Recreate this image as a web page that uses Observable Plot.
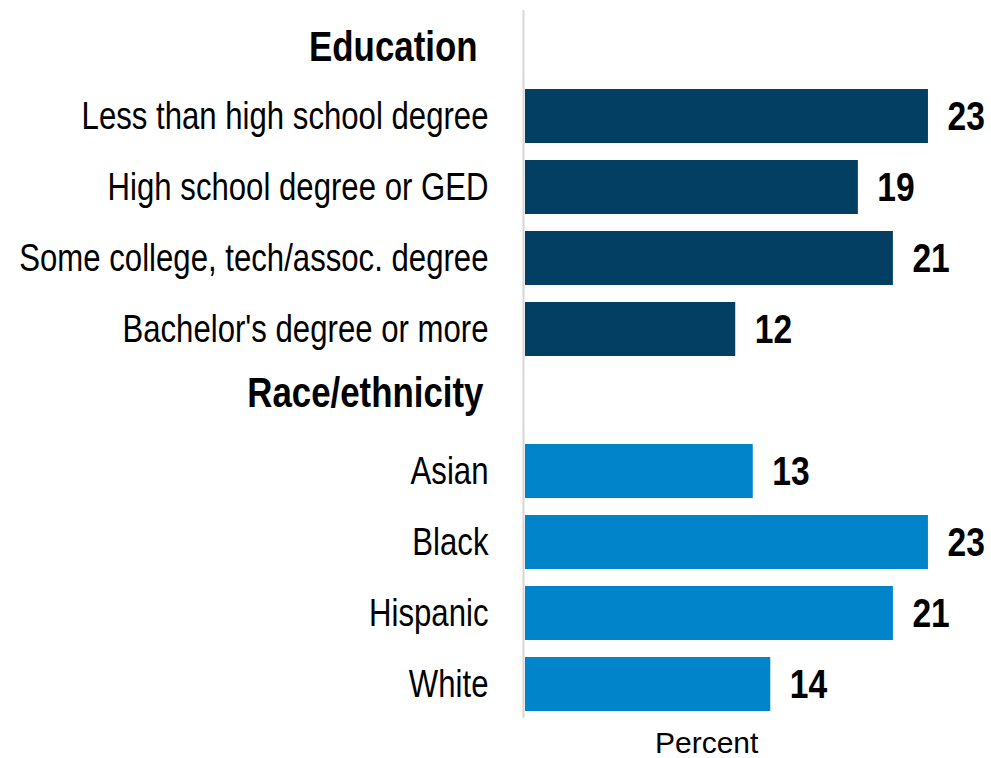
<!DOCTYPE html>
<html>
<head>
<meta charset="utf-8">
<script src="https://cdn.jsdelivr.net/npm/d3@7"></script>
<script src="https://cdn.jsdelivr.net/npm/@observablehq/plot@0.6"></script>
<style>
  html, body { margin: 0; padding: 0; background: white; }
  #caption { font-family: "Liberation Sans", Arial, sans-serif; font-size: 30px; color: #000; padding-left: 655px; margin-top: 4px; }
</style>
</head>
<body>
<div id="chart"></div>
<div id="caption">Percent</div>
<script>
const headers = ["Education", "Race/ethnicity"];
const educationLabels = ["Less than high school degree", "High school degree or GED", "Some college, tech/assoc. degree", "Bachelor's degree or more"];
const educationValues = [23, 19, 21, 12];
const raceLabels = ["Asian", "Black", "Hispanic", "White"];
const raceValues = [13, 23, 21, 14];
const groupColors = ["#023f62", "#0284cb"];

const rows = [
  ...educationLabels.map((label, i) => ({group: headers[0], label, value: educationValues[i]})),
  ...raceLabels.map((label, i) => ({group: headers[1], label, value: raceValues[i]}))
];
const yDomain = [headers[0], ...educationLabels, headers[1], ...raceLabels];
const font = "'Liberation Sans', Arial, sans-serif";

const chart = Plot.plot({
  width: 991,
  height: 722,
  marginLeft: 525,
  marginRight: 10.5,
  marginTop: 10,
  marginBottom: 4,
  style: {fontFamily: font, background: "white", color: "#000"},
  x: {domain: [0, 26], axis: null},
  y: {domain: yDomain, paddingInner: 0.24, paddingOuter: 0.1, axis: null, label: null},
  color: {domain: headers, range: groupColors},
  marks: [
    Plot.barX(rows, {x: "value", y: "label", fill: "group"}),
    Plot.ruleX([0], {stroke: "#d6d6d6", strokeWidth: 2, dx: -2}),
    Plot.text(rows, {x: "value", y: "label", text: d => String(d.value), textAnchor: "start", dx: 19, fontSize: 41, fontWeight: "bold", fill: "#000"}),
    Plot.axisY([...educationLabels, ...raceLabels], {tickSize: 0, tickPadding: 37, fontSize: 38, label: null, fill: "#000"}),
    Plot.axisY([headers[0]], {tickSize: 0, tickPadding: 48, fontSize: 42.5, fontWeight: "bold", label: null, dy: 2, fill: "#000"}),
    Plot.axisY([headers[1]], {tickSize: 0, tickPadding: 42, fontSize: 42.5, fontWeight: "bold", label: null, dy: -7, fill: "#000"})
  ]
});

// Arial Narrow is not installed: condense the chart's texts horizontally around their anchor.
chart.querySelectorAll("text").forEach(t => {
  let tr = t.getAttribute("transform");
  if (!tr) {
    const x = t.getAttribute("x") || 0, y = t.getAttribute("y") || 0;
    t.removeAttribute("x"); t.removeAttribute("y");
    tr = `translate(${x},${y})`;
  }
  t.setAttribute("transform", tr + " scale(0.82,1)");
});
document.getElementById("chart").appendChild(chart);
</script>
</body>
</html>
